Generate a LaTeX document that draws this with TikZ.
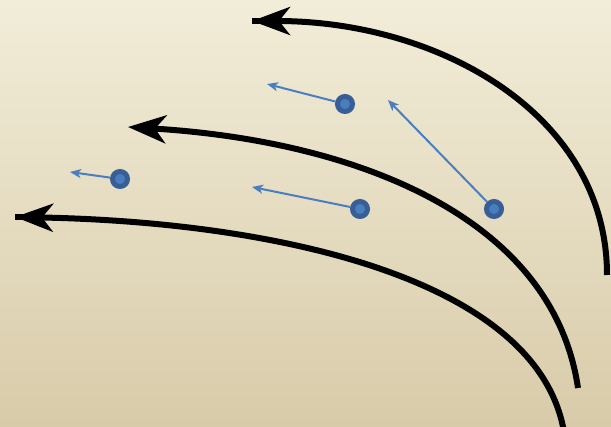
\documentclass[tikz,border=0pt]{standalone}
\usetikzlibrary{arrows.meta}
\definecolor{bgtop}{HTML}{F2EDD9}
\definecolor{bgbot}{HTML}{D8CBA9}
\definecolor{dotouter}{HTML}{375E95}
\definecolor{dotinner}{HTML}{4A7DBF}
\definecolor{flowblue}{HTML}{4A7EC1}
\tikzset{
  bigline/.style={line width=6pt, line cap=butt, black},
  bighead/.style={-{Stealth[length=38pt,width=28pt,inset=11pt]}},
  dotnode/.style={circle, fill=dotinner, draw=dotouter, line width=5pt, minimum size=15pt, inner sep=0pt},
  smallarrow/.style={flowblue, line width=2pt, -{Stealth[length=11pt,width=9pt,inset=3pt]}},
}
\begin{document}
\begin{tikzpicture}[x=1pt,y=-1pt]
\useasboundingbox (0,0) rectangle (611,427);
\shade[top color=bgtop, bottom color=bgbot] (0,0) rectangle (611,427);
\clip (0,0) rectangle (611,427);
% field lines
\coordinate (a1) at (607,275);
\coordinate (b1) at (252,21);
\coordinate (a2) at (578,388);
\coordinate (b2) at (128,127);
\coordinate (a3) at (564,432);
\coordinate (b3) at (15,217);
\draw[bigline, bighead] (a1) .. controls (607,115) and (440,21) .. (b1);
\draw[bigline] (b1) -- ++(10,0);
\draw[bigline, bighead] (a2) .. controls (553,218) and (358,141) .. (b2);
\draw[bigline, bighead] (a3) .. controls (538,280) and (280,222) .. (b3);
\draw[bigline] (b3) -- ++(10,0);
% particles
\node[dotnode] (d1) at (345,104) {};
\node[dotnode] (d2) at (120,179) {};
\node[dotnode] (d3) at (360,209) {};
\node[dotnode] (d4) at (494,209) {};
\coordinate (t1) at (267,84);
\coordinate (t2) at (70,172);
\coordinate (t3) at (252,187);
\coordinate (t4) at (388,100);
\draw[smallarrow] (d1) -- (t1);
\draw[smallarrow] (d2) -- (t2);
\draw[smallarrow] (d3) -- (t3);
\draw[smallarrow] (d4) -- (t4);
\end{tikzpicture}
\end{document}
